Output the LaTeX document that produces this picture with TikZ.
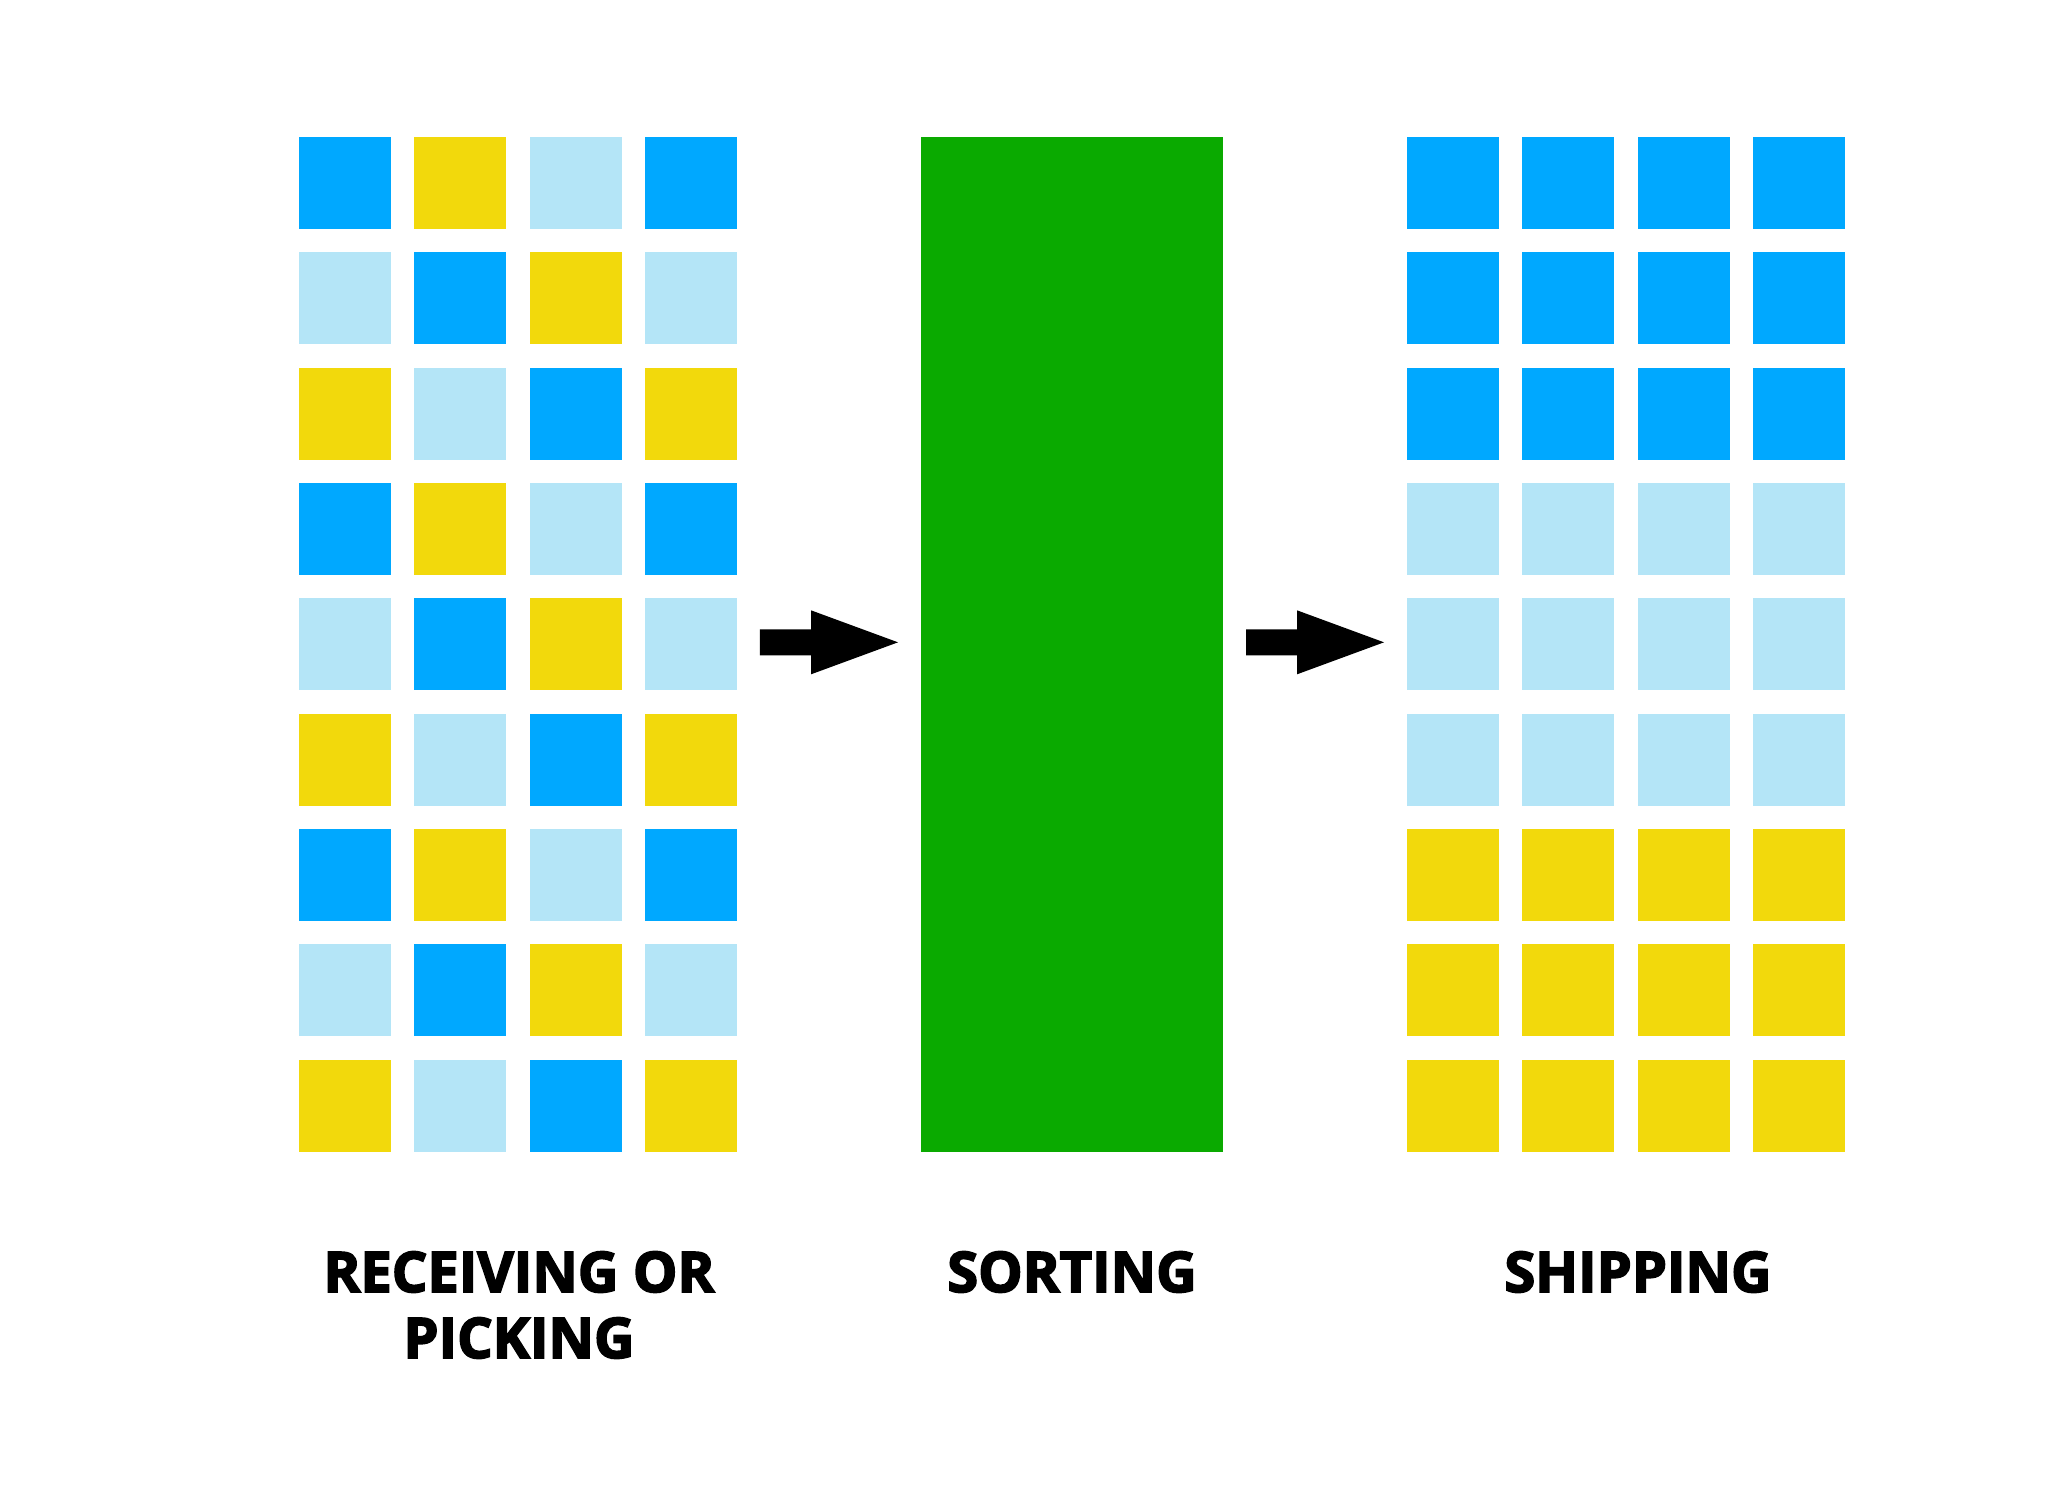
\documentclass[tikz,border=0pt]{standalone}
\usepackage{fontspec}
\setmainfont{Open Sans}[BoldFeatures={FakeBold=3}]
\usetikzlibrary{calc}
\definecolor{cB}{RGB}{0,168,255}
\definecolor{cL}{RGB}{180,229,247}
\definecolor{cY}{RGB}{242,217,12}
\definecolor{cG}{RGB}{10,170,0}
\newcommand\blockarrow[2]{%
  \fill[black] ($(#1)+(0,-13)$) -- ($(#2)+(-87,-13)$) -- ($(#2)+(-87,-32)$) -- (#2)
    -- ($(#2)+(-87,32)$) -- ($(#2)+(-87,13)$) -- ($(#1)+(0,13)$) -- cycle;}
\begin{document}
\begin{tikzpicture}[x=1pt,y=-1pt,
  cell/.style={minimum size=92pt, inner sep=0pt, outer sep=0pt, anchor=north west, draw=none},
  lbl/.style={font=\fontsize{56}{66}\selectfont\bfseries, anchor=base, align=center, inner sep=0pt}]
\useasboundingbox[fill=white] (0,0) rectangle (2048,1495);
% left grid
\foreach \rowlist [count=\r from 0] in {{B,Y,L,B},{L,B,Y,L},{Y,L,B,Y},{B,Y,L,B},{L,B,Y,L},{Y,L,B,Y},{B,Y,L,B},{L,B,Y,L},{Y,L,B,Y}}{
  \foreach \col [count=\c from 0] in \rowlist {
    \node[cell, fill=c\col] (L-\r-\c) at ({299+115.33*\c},{137+115.33*\r}) {};
  }
}
% right grid
\foreach \rowlist [count=\r from 0] in {B,B,B,L,L,L,Y,Y,Y}{
  \foreach \c in {0,1,2,3} {
    \node[cell, fill=c\rowlist] (R-\r-\c) at ({1407+115.33*\c},{137+115.33*\r}) {};
  }
}
% sorting block
\node[cell, fill=cG, minimum width=302pt, minimum height=1015pt] (sort) at (921,137) {};
% arrows
\coordinate (a1s) at ($(L-4-3.east)+(23,-2)$);
\coordinate (a1t) at ($(sort.west |- a1s)+(-23,0)$);
\coordinate (a2s) at ($(sort.east |- a1s)+(23,0)$);
\coordinate (a2t) at ($(R-4-0.west |- a1s)+(-23,0)$);
\blockarrow{a1s}{a1t}
\blockarrow{a2s}{a2t}
% labels
\node[lbl] (t1) at (519,1358) {RECEIVING OR\\PICKING};
\node[lbl] (t2) at (1072,1292) {SORTING};
\node[lbl] (t3) at (1638,1292) {SHIPPING};
\end{tikzpicture}
\end{document}
